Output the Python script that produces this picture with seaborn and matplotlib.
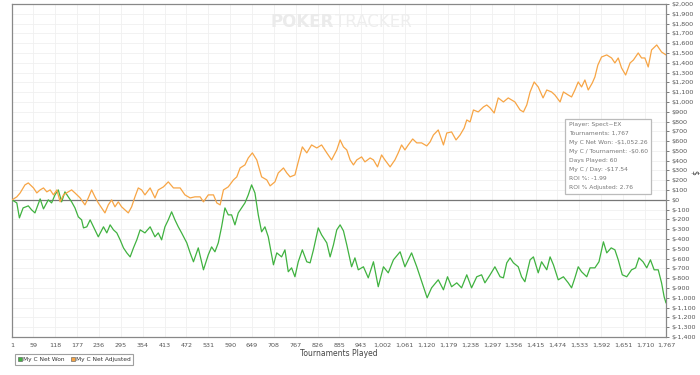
import matplotlib
matplotlib.use("Agg")
import matplotlib.pyplot as plt
import seaborn as sns
import pandas as pd
import numpy as np
from matplotlib.ticker import FuncFormatter, FixedLocator, MultipleLocator
from matplotlib.lines import Line2D

# ---- data ----
won_t = [1, 14, 21, 31, 45, 54, 63, 77, 86, 99, 108, 117, 126, 135, 144, 153, 162, 171, 180, 189,
         194, 203, 212, 221, 234, 248, 257, 266, 275, 284, 293, 302, 311, 320, 329, 338, 347, 360,
         374, 387, 396, 405, 414, 423, 432, 441, 450, 459, 473, 482, 491, 504, 518, 531, 540, 549,
         558, 567, 576, 585, 594, 603, 612, 621, 630, 639, 648, 657, 666, 675, 684, 693, 707, 716,
         729, 738, 747, 756, 765, 774, 785, 797, 806, 815, 828, 837, 851, 860, 869, 878, 887, 896,
         905, 918, 927, 936, 950, 963, 977, 990, 1004, 1017, 1031, 1049, 1062, 1080, 1094, 1112,
         1122, 1134, 1152, 1166, 1177, 1188, 1202, 1215, 1229, 1242, 1256, 1269, 1278, 1292, 1305,
         1319, 1328, 1337, 1346, 1355, 1368, 1377, 1386, 1400, 1409, 1422, 1431, 1445, 1454, 1463,
         1476, 1490, 1503, 1512, 1521, 1530, 1539, 1553, 1562, 1575, 1586, 1598, 1607, 1619, 1629,
         1638, 1649, 1661, 1674, 1685, 1694, 1705, 1715, 1725, 1735, 1746, 1755, 1762, 1767]
won_v = [0, -31, -184, -82, -61, -102, -133, 10, -92, 0, -31, 51, 102, -20, 82, 31, -20, -82, -173,
         -204, -286, -275, -204, -275, -377, -275, -337, -255, -306, -337, -408, -490, -541, -582,
         -490, -408, -306, -337, -275, -377, -337, -408, -275, -204, -122, -204, -275, -337, -439,
         -541, -632, -490, -714, -561, -480, -530, -439, -275, -82, -153, -153, -255, -133, -82,
         -31, 51, 153, 71, -153, -326, -275, -377, -663, -541, -582, -510, -734, -694, -785, -632,
         -510, -632, -643, -510, -286, -357, -439, -582, -459, -306, -255, -316, -459, -683, -592,
         -714, -683, -796, -632, -887, -683, -745, -612, -530, -683, -541, -683, -887, -1000, -898,
         -816, -918, -785, -887, -847, -898, -765, -898, -785, -765, -847, -765, -683, -785, -796,
         -643, -592, -643, -683, -785, -836, -612, -582, -745, -632, -714, -582, -663, -816, -785,
         -847, -898, -796, -683, -734, -785, -694, -694, -632, -428, -541, -490, -510, -612, -765,
         -785, -714, -694, -592, -632, -694, -612, -714, -714, -847, -990, -1052.26]

adj_t = [1, 14, 23, 36, 45, 59, 68, 77, 86, 95, 104, 113, 122, 131, 140, 153, 162, 171, 185, 198,
         207, 216, 225, 234, 243, 252, 261, 270, 279, 288, 297, 306, 315, 324, 333, 342, 351, 360,
         374, 387, 396, 410, 423, 437, 455, 468, 482, 495, 509, 518, 531, 545, 554, 563, 572, 585,
         599, 608, 617, 630, 639, 650, 662, 675, 689, 698, 711, 720, 734, 743, 752, 765, 774, 785,
         797, 810, 824, 837, 851, 864, 878, 887, 896, 905, 914, 923, 932, 945, 954, 968, 977, 988,
         999, 1008, 1022, 1035, 1044, 1053, 1062, 1071, 1083, 1094, 1107, 1121, 1130, 1139, 1152,
         1166, 1175, 1188, 1200, 1211, 1222, 1229, 1238, 1247, 1260, 1274, 1283, 1292, 1303, 1314,
         1328, 1341, 1359, 1373, 1382, 1391, 1400, 1411, 1422, 1435, 1445, 1458, 1467, 1481, 1490,
         1503, 1512, 1521, 1530, 1539, 1548, 1557, 1568, 1575, 1583, 1593, 1607, 1620, 1629, 1638,
         1647, 1658, 1670, 1679, 1692, 1701, 1710, 1719, 1728, 1742, 1755, 1767]
adj_v = [0, 31, 71, 153, 173, 122, 71, 102, 122, 82, 102, 51, 102, -20, 51, 82, 102, 71, 20, -51,
         20, 102, 31, -31, -82, -133, -51, 0, -71, -20, -71, -102, -133, -71, 31, 122, 102, 51, 122,
         20, 102, 133, 184, 122, 122, 51, 20, 31, 31, -20, 51, 51, -31, -51, 102, 133, 204, 235,
         326, 357, 428, 480, 408, 235, 204, 143, 184, 275, 326, 275, 235, 255, 388, 541, 480, 561,
         530, 561, 480, 408, 510, 612, 541, 510, 408, 357, 408, 439, 388, 428, 408, 337, 459, 408,
         337, 408, 480, 561, 510, 561, 622, 582, 582, 551, 592, 663, 714, 561, 683, 694, 612, 663,
         734, 816, 796, 918, 898, 949, 969, 939, 887, 1041, 1000, 1041, 1000, 918, 898, 969, 1102,
         1204, 1153, 1041, 1122, 1102, 1071, 1000, 1102, 1071, 1051, 1122, 1204, 1153, 1224, 1122,
         1194, 1255, 1377, 1459, 1480, 1449, 1398, 1449, 1347, 1275, 1398, 1428, 1500, 1449, 1449,
         1357, 1531, 1582, 1510, 1480]

x_ticks = [1, 59, 118, 177, 236, 295, 354, 413, 472, 531, 590, 649, 708, 767, 826, 885, 943, 1002,
           1061, 1120, 1179, 1238, 1297, 1356, 1415, 1474, 1533, 1592, 1651, 1710, 1767]
series_names = ["My C Net Won", "My C Net Adjusted"]
info_lines = ["Player: Spect~EX", "Tournaments: 1,767", "My C Net Won: -$1,052.26",
              "My C / Tournament: -$0.60", "Days Played: 60", "My C / Day: -$17.54",
              "ROI %: -1.99", "ROI % Adjusted: 2.76"]

GREEN = "#40b240"
ORANGE = "#f7a545"
GRAY = "#666666"

df = pd.concat([
    pd.DataFrame({"t": won_t, "v": won_v, "s": series_names[0]}),
    pd.DataFrame({"t": adj_t, "v": adj_v, "s": series_names[1]}),
])

sns.set_style("white")
plt.rcParams["font.family"] = ["DejaVu Sans"]

fig = plt.figure(figsize=(7, 3.75), dpi=100)
ax = fig.add_axes([12 / 700, 1 - 337 / 375, 654 / 700, 333 / 375])

sns.lineplot(data=df, x="t", y="v", hue="s", palette=[GREEN, ORANGE], linewidth=0.9,
             ax=ax, legend=False, sort=False, zorder=3)

ax.set_xlim(1, 1767)
ax.set_ylim(-1400, 2000)
ax.xaxis.set_major_locator(FixedLocator(x_ticks))
ax.set_xticklabels([f"{t:,}" for t in x_ticks])
ax.yaxis.set_major_locator(MultipleLocator(100))
ax.yaxis.tick_right()


def money(v, pos):
    v = int(round(v))
    if v < 0:
        return f"$-{abs(v):,}"
    return f"${v:,}"


ax.yaxis.set_major_formatter(FuncFormatter(money))
ax.tick_params(axis="both", labelsize=4.6, colors=GRAY, length=3, width=0.6, pad=1.2)
ax.tick_params(axis="y", direction="out", labelcolor="#555555", length=2.5)
ax.tick_params(axis="x", labelcolor="#555555")
ax.grid(True, color="#f0f0f0", linewidth=0.6, zorder=0)
ax.axhline(0, color="#777777", linewidth=0.9, zorder=2)
for sp in ax.spines.values():
    sp.set_color("#888888")
    sp.set_linewidth(0.9)

ax.set_xlabel("Tournaments Played", fontsize=5.5, color="#444444", labelpad=1)
ax.set_ylabel("")
fig.text(694 / 700, 1 - 172 / 375, "$", rotation=270, fontsize=5.5, color="#444444",
         ha="center", va="center")

# watermark
ax.text(0.492, 0.946, "POKER", transform=ax.transAxes, ha="right", va="center",
        fontsize=12, fontweight="bold", color="#ebebeb", zorder=1)
ax.text(0.494, 0.946, "TRACKER", transform=ax.transAxes, ha="left", va="center",
        fontsize=12, color="#eeeeee", zorder=1)

# info box
ax.text(0.851, 0.645, "\n".join(info_lines), transform=ax.transAxes, ha="left", va="top",
        fontsize=4.3, color="#777777", linespacing=2.0, zorder=5,
        bbox=dict(boxstyle="square,pad=0.6", facecolor="white", edgecolor="#bbbbbb",
                  linewidth=0.9))

# legend
handles = [Line2D([], [], marker="s", linestyle="none", markersize=3.2, markerfacecolor=c,
                  markeredgecolor="#555555", markeredgewidth=0.4) for c in (GREEN, ORANGE)]
leg = fig.legend(handles, series_names, loc="lower left", bbox_to_anchor=(12 / 700, 7 / 375),
                 ncol=2, fontsize=4.2, frameon=True, handletextpad=0.1, columnspacing=1.0,
                 borderpad=0.5, handlelength=0.8, fancybox=False)
leg.get_frame().set_edgecolor("#888888")
leg.get_frame().set_linewidth(0.8)
for t in leg.get_texts():
    t.set_color("#333333")

fig.savefig("out.png", dpi=100, facecolor="white")
